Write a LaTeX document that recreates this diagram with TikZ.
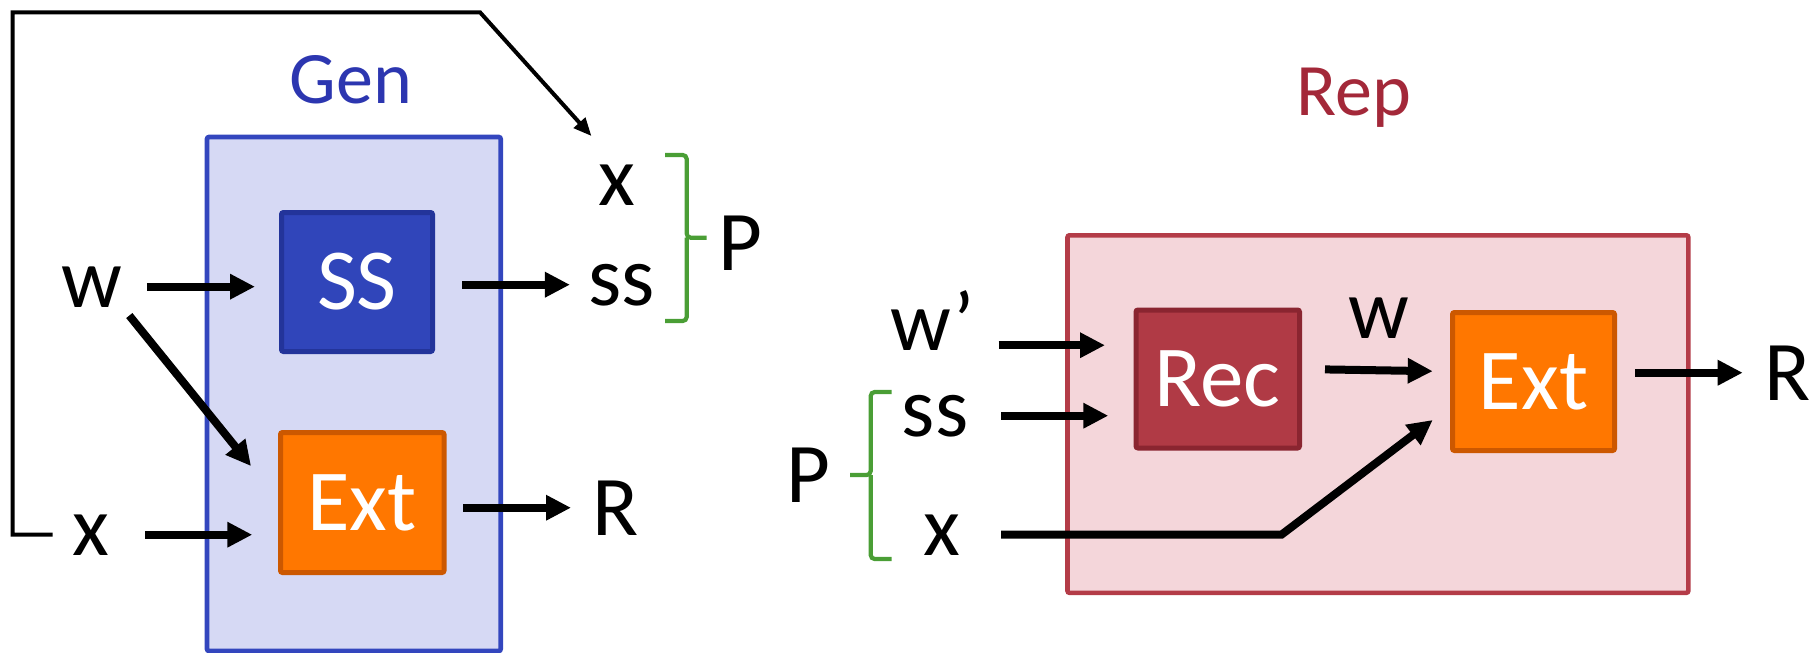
\documentclass[tikz,border=0pt]{standalone}
\usepackage{fontspec}
\setmainfont{Carlito}
\usetikzlibrary{arrows.meta}

\definecolor{genblue}{RGB}{44,54,176}
\definecolor{genfill}{RGB}{214,217,244}
\definecolor{genedge}{RGB}{51,70,190}
\definecolor{ssfill}{RGB}{48,69,186}
\definecolor{ssedge}{RGB}{35,52,154}
\definecolor{extfill}{RGB}{255,119,0}
\definecolor{extedge}{RGB}{204,88,0}
\definecolor{repred}{RGB}{163,40,57}
\definecolor{repfill}{RGB}{244,214,218}
\definecolor{repedge}{RGB}{180,60,72}
\definecolor{recfill}{RGB}{176,58,69}
\definecolor{recedge}{RGB}{138,37,48}
\definecolor{bracegreen}{RGB}{74,158,53}

\begin{document}
\begin{tikzpicture}[x=0.5pt, y=-0.5pt,
    lbl/.style={inner sep=0pt, outer sep=0pt, anchor=base, font=\fontsize{42.5}{50}\selectfont},
    title/.style={inner sep=0pt, anchor=base, font=\fontsize{37}{44}\selectfont},
    blk/.style={draw, line width=2.5pt, rounded corners=1pt, inner sep=0pt, outer sep=0pt,
                text=white, font=\fontsize{43.5}{50}\selectfont},
    arr/.style={line width=4pt, -{Triangle[length=12.5pt, width=12pt]}},
    fb/.style={line width=2pt, -{Triangle[length=9pt, width=7.5pt]}},
    brc/.style={draw=bracegreen, line width=2.1pt, rounded corners=2pt}]
    \useasboundingbox (0,0) rectangle (1810,653);

    % Gen container
    \draw[genedge, fill=genfill, line width=2.3pt, rounded corners=1pt] (207,137) rectangle (500.7,651);
    \node[title, text=genblue] (gen) at (351,103) {Gen};

    % Rep container
    \draw[repedge, fill=repfill, line width=2.3pt, rounded corners=1pt] (1067.5,235.3) rectangle (1688.3,592.8);
    \node[title, text=repred] (rep) at (1353.5,115) {Rep};

    % Gen blocks
    \node[blk, fill=ssfill, draw=ssedge, minimum width=75.5pt, minimum height=69.5pt] (gss) at (357,282) {SS};
    \node[blk, fill=extfill, draw=extedge, minimum width=81.75pt, minimum height=70pt] (gext) at (362.25,502.5) {Ext};

    % Rep blocks
    \node[blk, fill=recfill, draw=recedge, minimum width=81.75pt, minimum height=69pt] (rec) at (1217.75,379) {Rec};
    \node[blk, fill=extfill, draw=extedge, minimum width=81pt, minimum height=69pt] (rext) at (1533.5,381.5) {Ext};

    % Gen labels
    \node[lbl] (lw) at (92,307) {w};
    \node[lbl] (lx) at (91,555) {x};
    \node[lbl] (px) at (617,205) {x};
    \node[lbl] (pss) at (622,305) {ss};
    \node[lbl] (lr) at (616,535) {R};
    \node[lbl] (lp) at (740,270) {P};

    % Rep labels
    \node[lbl] (rw) at (932.5,350) {w'};
    \node[lbl] (rss) at (935,436) {ss};
    \node[lbl] (rx) at (941.5,555) {x};
    \node[lbl] (rwm) at (1378.7,338) {w};
    \node[lbl] (rr) at (1788,400) {R};
    \node[lbl] (rp) at (808,502) {P};

    % Gen arrows
    \draw[arr, shorten <=12.2pt, shorten >=13.25pt] (lw.east) -- (lw.east -| gss.west);
    \draw[arr, shorten <=5.5pt, shorten >=23.4pt] (lw.south east) -- (gext.west);
    \draw[arr, shorten <=17.8pt, shorten >=14.1pt] (lx.east) -- (lx.east -| gext.west);
    \draw[arr, shorten <=14.9pt, shorten >=9.4pt] (gss.east |- pss.west) -- (pss.west);
    \draw[arr, shorten <=9.65pt, shorten >=10.95pt] (gext.east |- lr.west) -- (lr.west);

    % Feedback of x
    \coordinate (fbt) at (12.7,12.3);
    \coordinate (fbr) at (480,12.3);
    \draw[fb, shorten <=10pt, shorten >=19.1pt] (lx.west) -- (lx.west -| fbt) -- (fbt) -- (fbr) -- (px.north);

    % Rep arrows
    \draw[arr, shorten <=11.9pt, shorten >=15.5pt] (rw.mid east) -- (rw.mid east -| rec.west);
    \draw[arr, shorten <=16.4pt, shorten >=13.85pt] (rss.east) -- (rss.east -| rec.west);
    \draw[arr, shorten <=12.75pt, shorten >=9.9pt] ([yshift=5pt]rec.east) -- ([yshift=5pt]rext.west);
    \draw[arr, shorten <=10.25pt, shorten >=11.1pt] (rext.east |- rr.west) -- (rr.west);
    \coordinate (xbend) at (1281.7,534.5);
    \draw[arr, shorten <=20.55pt, shorten >=12.4pt] (rx.east) -- (xbend) -- ([yshift=-11.75pt]rext.west);

    % Braces
    \draw[brc] (665,155) -- (686.7,155) -- (686.7,237.7) -- (706.7,237.7)
               (686.7,237.7) -- (686.7,321) -- (665,321);
    \draw[brc] (891.7,392) -- (870.7,392) -- (870.7,475) -- (850,475)
               (870.7,475) -- (870.7,559) -- (891.7,559);
\end{tikzpicture}
\end{document}
